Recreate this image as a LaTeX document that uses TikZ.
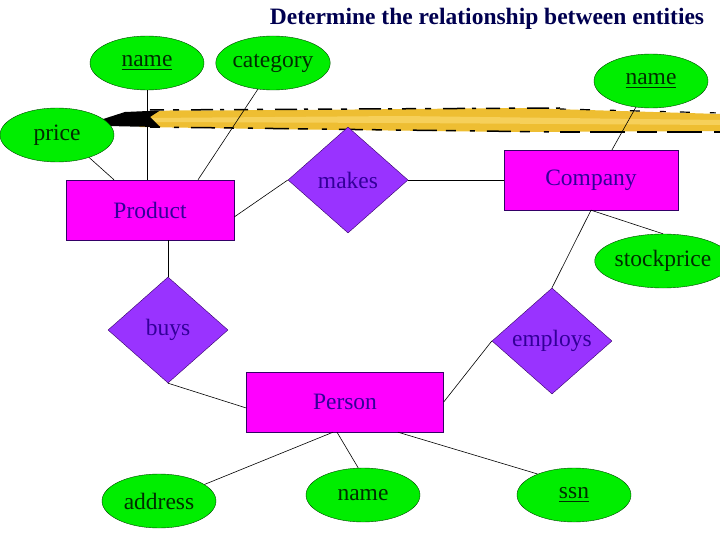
\documentclass[tikz,border=0pt]{standalone}
\usepackage{fontspec}
\setmainfont{Liberation Serif}
\usetikzlibrary{shapes.geometric,positioning,calc}

\definecolor{attrgreen}{RGB}{0,238,0}
\definecolor{attredge}{RGB}{0,70,0}
\definecolor{attrtext}{RGB}{0,45,0}
\definecolor{entfill}{RGB}{255,0,255}
\definecolor{relfill}{RGB}{153,51,255}
\definecolor{boxedge}{RGB}{51,0,102}
\definecolor{boxtext}{RGB}{51,0,153}
\definecolor{titleblue}{RGB}{0,0,80}
\definecolor{brushgold}{RGB}{238,190,50}
\definecolor{brushlight}{RGB}{246,208,90}

% key attribute: thick underline
\newcommand{\keyattr}[1]{\setbox0\hbox{#1}\rlap{\rule[-3.5pt]{\wd0}{1.6pt}}\box0}

\begin{document}
\begin{tikzpicture}[x=1pt,y=-1pt,
  attr/.style={ellipse,draw=attredge,fill=attrgreen,minimum width=114pt,minimum height=54pt,
    inner sep=0pt,text=attrtext,font=\fontsize{23.5}{26}\selectfont},
  entity/.style={rectangle,draw=boxedge,fill=entfill,inner sep=0pt,
    text=boxtext,font=\fontsize{23.5}{26}\selectfont},
  rel/.style={diamond,draw=boxedge,fill=relfill,aspect=1.13,minimum width=120pt,minimum height=106pt,
    inner sep=0pt,text=boxtext,font=\fontsize{23.5}{26}\selectfont},
  link/.style={draw=black,line width=0.6pt}]
  \useasboundingbox[fill=white] (0,0) rectangle (720,540);

  % highlighter stroke under the title
  \fill[brushgold] (125,113) -- (170,110.5) -- (300,110) -- (520,108) -- (720,114) -- (720,131) -- (520,132) -- (300,129.5) -- (140,127) -- cycle;
  \fill[brushlight] (150,118) -- (400,116) -- (720,120) -- (720,125) -- (400,123) -- (150,122) -- cycle;
  \fill[black] (97,121) -- (125,112) -- (160,110.5) -- (150,117) -- (160,127) -- (130,126.5) -- (108,126) -- cycle;
  \draw[black,line width=1.5pt,dash pattern=on 14pt off 9pt on 6pt off 12pt on 22pt off 7pt on 4pt off 10pt] (150,110) -- (560,108);
  \draw[black,line width=1.2pt,dash pattern=on 6pt off 14pt on 10pt off 20pt] (560,109) -- (720,113);
  \draw[black,line width=1.5pt,dash pattern=on 10pt off 14pt on 5pt off 12pt on 24pt off 9pt] (150,127) -- (560,132);
  \draw[black,line width=1.3pt,dash pattern=on 20pt off 10pt on 35pt off 12pt] (560,132) -- (720,132);

  \node[font=\bfseries\fontsize{23.5}{26}\selectfont,text=titleblue] (title) at (487,19) {Determine the relationship between entities};

  % entities
  \node[entity,minimum width=168pt,minimum height=60pt] (product) at (150,210) {Product};
  \node[entity,minimum width=174pt,minimum height=60pt] (company) at (591,180) {Company};
  \node[entity,minimum width=197pt,minimum height=60pt] (person) at (345,402) {Person};

  % relationships
  \node[rel] (makes) at (348,180) {makes};
  \node[rel] (buys) at (168,330) {buys};
  \node[rel] (employs) at (552,341) {employs};

  % attributes
  \node[attr] (prodname) at (147,63) {\keyattr{name}};
  \node[attr] (category) at (273,63) {category};
  \node[attr] (price) at (57,135) {price};
  \node[attr] (compname) at (651,81) {\keyattr{name}};
  \node[attr] (stockprice) at (663,261) {stockprice};
  \node[attr] (address) at (159,501) {address};
  \node[attr] (persname) at (363,495) {name};
  \node[attr] (ssn) at (574,495) {\keyattr{ssn}};

  % links
  \draw[link] (prodname.south) -- (prodname.south |- product.north);
  \draw[link] (category.240) -- ([xshift=48pt]product.north);
  \draw[link] (price.-35) -- ([xshift=-36pt]product.north);
  \draw[link] ([yshift=-7pt]product.east) -- (makes.west);
  \draw[link] (makes.east) -- (company.west);
  \draw[link] (compname.240) -- ([xshift=21pt]company.north);
  \draw[link] (company.south) -- (stockprice.north);
  \draw[link] (company.south) -- (employs.north);
  \draw[link] (buys.north |- product.south) -- (buys.north);
  \draw[link] (buys.south) -- ([yshift=-6pt]person.west);
  \draw[link] (employs.west) -- (person.east);
  \draw[link] ([xshift=-12pt]person.south) -- (address.20);
  \draw[link] ([xshift=-8pt]person.south) -- (persname.100);
  \draw[link] ([xshift=53pt]person.south) -- (ssn.150);
\end{tikzpicture}
\end{document}
